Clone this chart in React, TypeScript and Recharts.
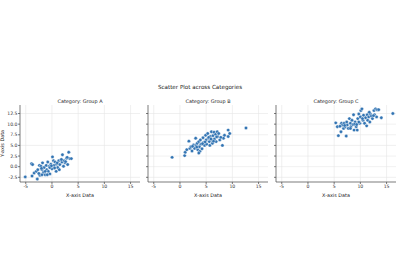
import { ScatterChart, Scatter, XAxis, YAxis, CartesianGrid } from "recharts";

interface Pt {
  x: number;
  y: number;
}

const groupNames = ["Group A", "Group B", "Group C"];
const xTicks = [-5, 0, 5, 10, 15];
const yTicks = [-2.5, 0, 2.5, 5, 7.5, 10, 12.5];

const groupAX = [
  -5.1, -3.9, -3.7, -3.8, -3.4, -3.0, -2.8, -2.7, -2.4, -2.3, -2.1, -1.9, -1.8, -1.6, -1.5,
  -1.3, -1.1, -1.0, -0.8, -0.7, -0.5, -0.4, -0.2, 0.0, 0.1, 0.3, 0.4, 0.6, 0.8, 0.9, 1.1,
  1.3, 1.5, 1.7, 1.9, 2.0, 2.2, 2.3, 2.5, 2.8, 3.0, 3.2, 3.4, 3.7, 2.9, 1.4, -0.4, -1.3,
  -0.9, -1.9, -2.5, 0.5, -0.1, 1.0, 1.8, -2.0, 2.6,
];
const groupAY = [
  -2.4, 0.7, 0.5, -2.2, -1.5, -1.1, -2.9, -0.7, 0.3, -2.0, 0.1, -0.7, 0.9, -1.3, -0.2,
  -1.9, 0.3, -0.7, 1.1, -1.1, 0.1, -1.7, 0.6, -0.5, 2.3, 1.4, 0.3, 1.1, -1.1, 0.6, -0.2,
  1.4, 0.5, 1.6, 1.1, 2.8, 0.1, 1.4, 0.9, 2.0, 0.5, 3.4, 1.9, 1.9, 2.2, -0.7, -0.2, -1.1,
  -1.9, -1.9, -1.6, -0.3, 0.2, 0.9, 1.7, -0.4, 1.2,
];

const groupBX = [
  -1.5, 0.9, 1.0, 1.3, 1.7, 1.9, 2.1, 2.3, 2.6, 2.8, 3.0, 3.1, 3.3, 3.4, 3.6, 3.7, 3.8,
  3.9, 4.0, 4.2, 4.4, 4.5, 4.7, 4.9, 5.0, 5.1, 5.3, 5.4, 5.6, 5.7, 5.8, 6.0, 6.1, 6.2,
  6.3, 6.5, 6.6, 6.8, 6.9, 7.1, 7.2, 7.4, 7.6, 8.1, 8.3, 8.5, 9.2, 9.2, 9.5, 12.6, 3.6,
  2.4, 4.8, 5.5, 6.4, 7.0, 4.3, 3.2, 5.9, 7.8,
];
const groupBY = [
  2.2, 2.6, 3.4, 4.0, 6.0, 4.3, 4.7, 3.7, 5.1, 4.3, 6.7, 5.0, 5.5, 4.0, 5.9, 4.7, 3.6,
  6.3, 5.3, 4.2, 6.8, 5.7, 5.0, 7.4, 6.3, 5.3, 7.8, 6.7, 5.9, 5.0, 7.1, 8.2, 6.3, 5.5,
  7.3, 8.1, 6.5, 7.6, 5.9, 8.2, 7.1, 7.8, 6.3, 5.0, 6.7, 7.4, 7.1, 8.6, 7.8, 9.1, 3.2,
  4.8, 5.8, 6.9, 6.0, 7.0, 5.4, 4.6, 6.5, 6.9,
];

const groupCX = [
  5.3, 5.6, 5.8, 6.3, 6.4, 6.6, 6.8, 6.9, 7.1, 7.3, 7.4, 7.5, 7.7, 7.9, 8.1, 8.2, 8.4,
  8.6, 8.7, 8.8, 9.0, 9.2, 9.4, 9.5, 9.7, 9.9, 10.0, 10.1, 10.3, 10.5, 10.6, 10.8, 11.0,
  11.2, 11.3, 11.4, 11.6, 11.8, 11.9, 12.1, 12.3, 12.6, 12.7, 12.9, 13.1, 13.2, 13.5,
  14.0, 16.2, 8.1, 9.7, 7.0, 8.9, 10.4, 11.7, 12.5, 9.3, 6.1,
];
const groupCY = [
  10.3, 9.4, 7.3, 8.2, 10.2, 9.8, 9.0, 10.2, 9.4, 7.2, 10.5, 9.8, 9.0, 11.3, 10.2, 9.4,
  10.9, 9.9, 12.2, 8.6, 10.5, 9.4, 8.6, 11.3, 12.4, 10.2, 11.7, 13.2, 13.6, 10.9, 12.1,
  10.2, 11.5, 9.6, 12.2, 10.9, 11.7, 10.5, 12.4, 11.9, 11.3, 13.2, 12.2, 13.6, 11.7, 13.4,
  13.4, 11.5, 12.5, 9.0, 10.5, 9.7, 10.0, 11.3, 12.8, 12.0, 9.9, 9.5,
];

const zip = (xs: number[], ys: number[]): Pt[] => xs.map((x, i) => ({ x, y: ys[i] }));
const groups = [zip(groupAX, groupAY), zip(groupBX, groupBY), zip(groupCX, groupCY)];

const font = "DejaVu Sans, sans-serif";
const tickStyle = { fontSize: 4.6, fill: "#333", fontFamily: font };

const Dot = (props: any) => {
  const { cx, cy } = props;
  if (cx == null || cy == null) return null;
  return <circle cx={cx} cy={cy} r={1.7} fill="#3274b3" stroke="#fff" strokeWidth={0.4} />;
};

const PLOT_W = 120;
const PLOT_TOP = 105;
const PANEL_LEFTS = [20, 148, 276];

const Panel = ({ data, name, idx }: { data: Pt[]; name: string; idx: number }) => {
  const left = PANEL_LEFTS[idx];
  return (
    <>
      <div
        style={{
          position: "absolute",
          left,
          width: PLOT_W,
          top: PLOT_TOP - 7,
          textAlign: "center",
          fontSize: 4.9,
          fontFamily: font,
          color: "#222",
          lineHeight: "6px",
        }}
      >
        Category: {name}
      </div>
      <div style={{ position: "absolute", left: left - 20, top: PLOT_TOP - 10 }}>
        <ScatterChart width={20 + PLOT_W + 4} height={105} margin={{ top: 10, right: 4, bottom: 0, left: 0 }}>
          <CartesianGrid stroke="#e6e6e6" strokeWidth={0.6} horizontalValues={yTicks} verticalValues={xTicks} />
          <XAxis
            type="number"
            dataKey="x"
            domain={[-6.1, 16.8]}
            ticks={xTicks}
            allowDataOverflow
            height={18}
            tick={tickStyle}
            tickSize={2}
            tickMargin={0.5}
            stroke="#444"
            strokeWidth={0.7}
            label={{ value: "X-axis Data", position: "insideBottom", offset: 3, style: { fontSize: 4.9, fill: "#222", fontFamily: font } }}
          />
          <YAxis
            type="number"
            dataKey="y"
            domain={[-3.6, 14.5]}
            ticks={yTicks}
            allowDataOverflow
            width={20}
            tick={tickStyle}
            tickFormatter={(v: number) => (idx === 0 ? v.toFixed(1) : "")}
            tickSize={2}
            tickMargin={0.5}
            stroke="#444"
            strokeWidth={0.7}
            label={
              idx === 0
                ? { value: "Y-axis Data", angle: -90, position: "insideLeft", offset: 2, style: { fontSize: 4.9, fill: "#222", fontFamily: font, textAnchor: "middle" } }
                : undefined
            }
          />
          <Scatter data={data} shape={<Dot />} isAnimationActive={false} />
        </ScatterChart>
      </div>
    </>
  );
};

export default function App() {
  return (
    <div style={{ position: "absolute", left: 0, top: 0, width: 400, height: 280, background: "#fff" }}>
      <div
        style={{
          position: "absolute",
          left: 0,
          width: 400,
          top: 84,
          textAlign: "center",
          fontSize: 5.6,
          fontFamily: font,
          color: "#222",
          lineHeight: "7px",
        }}
      >
        Scatter Plot across Categories
      </div>
      {groups.map((g, i) => (
        <Panel key={i} data={g} name={groupNames[i]} idx={i} />
      ))}
    </div>
  );
}
